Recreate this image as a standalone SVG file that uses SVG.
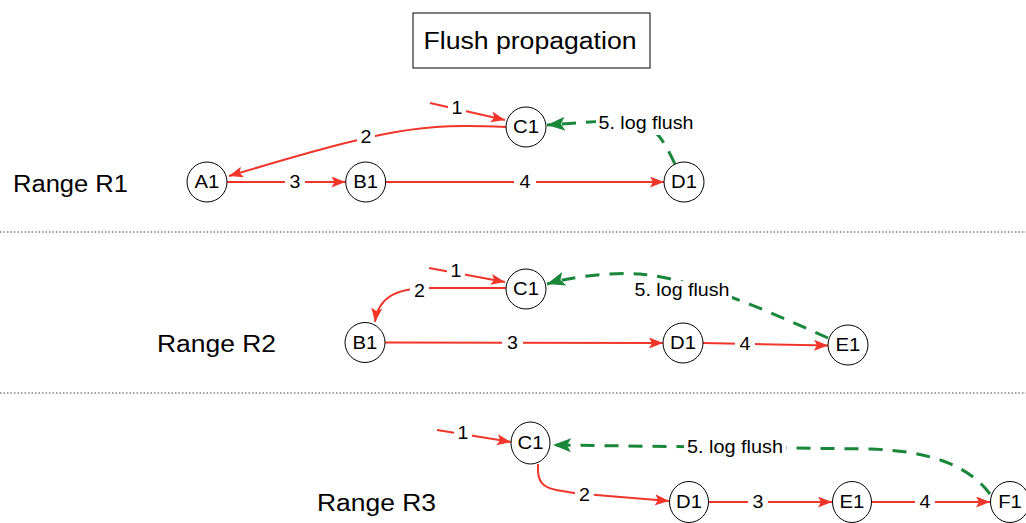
<svg xmlns="http://www.w3.org/2000/svg" width="1026" height="523" viewBox="0 0 1026 523">
  <style>
    text { font-family: "Liberation Sans", Arial, Helvetica, sans-serif; fill: #000; }
    .title { font-size: 23px; text-anchor: middle; }
    .range { font-size: 23.5px; }
    .nl { font-size: 18px; text-anchor: middle; }
    .el { font-size: 17.5px; text-anchor: middle; }
    .node ellipse { fill: #fff; stroke: #000; stroke-width: 1; }
    .red { fill: none; stroke: #f0352a; stroke-width: 2; marker-end: url(#arrowRed); }
    .green { fill: none; stroke: #18873a; stroke-width: 3; stroke-dasharray: 14 10; marker-end: url(#arrowGreen); }
    .bg { fill: #fff; }
    .sep { stroke: #444; stroke-width: 1; stroke-dasharray: 1.5 2; }
  </style>
  <defs>
    <marker id="arrowRed" markerUnits="userSpaceOnUse" markerWidth="15" markerHeight="12" refX="14" refY="5.5" orient="auto">
      <path d="M0,0 L14,5.5 L0,11 L3,5.5 Z" fill="#f0352a"/>
    </marker>
    <marker id="arrowGreen" markerUnits="userSpaceOnUse" markerWidth="19" markerHeight="15" refX="18" refY="7" orient="auto">
      <path d="M0,0 L18,7 L0,14 L4,7 Z" fill="#18873a"/>
    </marker>
  </defs>

  <rect width="1026" height="523" fill="#fff"/>

  <!-- title -->
  <g id="title">
    <rect x="413" y="13" width="237" height="55" fill="#fff" stroke="#000" stroke-width="1"/>
    <text class="title" x="530" y="48.5" textLength="213" lengthAdjust="spacingAndGlyphs">Flush propagation</text>
  </g>

  <!-- row separators -->
  <g id="separators">
    <line class="sep" x1="0" y1="232" x2="1026" y2="232"/>
    <line class="sep" x1="0" y1="393" x2="1026" y2="393"/>
  </g>

  <!-- range captions -->
  <g id="range-labels">
    <text class="range" x="13" y="191.5" textLength="115" lengthAdjust="spacingAndGlyphs">Range R1</text>
    <text class="range" x="157" y="351.5" textLength="119" lengthAdjust="spacingAndGlyphs">Range R2</text>
    <text class="range" x="317" y="511" textLength="119" lengthAdjust="spacingAndGlyphs">Range R3</text>
  </g>

  <!-- connectors -->
  <g id="connectors">
    <!-- Range R1 -->
    <path class="red" d="M430,103 L505,120"/>
    <path class="red" d="M506,127 C420,123 390,128 229,176"/>
    <path class="red" d="M227,182 L345.5,182"/>
    <path class="red" d="M385.7,182 L664,182"/>
    <path class="green" d="M675,164 C663,140 655,120 620,120 L547,125"/>

    <!-- Range R2 -->
    <path class="red" d="M429,268 L505,282"/>
    <path class="red" d="M506,288 L430,288 C395,288 378,298 375,322"/>
    <path class="red" d="M385,342.5 L663,343"/>
    <path class="red" d="M703,343 L828,345.5"/>
    <path class="green" d="M828,338 C770,312 700,280 640,274 C610,272 570,277 547,284"/>

    <!-- Range R3 -->
    <path class="red" d="M437,430 L511,442"/>
    <path class="red" d="M538,464 C537,488 545,489 578,493.5 L669,501"/>
    <path class="red" d="M708.5,502 L832,502"/>
    <path class="red" d="M871.5,502 L990,502"/>
    <path class="green" d="M990,494 C968,465 930,451 870,449 L553,445"/>

    <!-- connector labels -->
    <g id="edge-labels">
      <rect class="bg" x="448" y="98" width="18" height="20"/>
      <text class="el" x="457" y="114.3" textLength="10.9" lengthAdjust="spacingAndGlyphs">1</text>
      <rect class="bg" x="357" y="126" width="18" height="20"/>
      <text class="el" x="366" y="142.8" textLength="10.9" lengthAdjust="spacingAndGlyphs">2</text>
      <rect class="bg" x="285" y="172" width="20" height="20"/>
      <text class="el" x="295" y="188.3" textLength="10.9" lengthAdjust="spacingAndGlyphs">3</text>
      <rect class="bg" x="514" y="172" width="22" height="20"/>
      <text class="el" x="525" y="188.3" textLength="10.9" lengthAdjust="spacingAndGlyphs">4</text>
      <rect class="bg" x="596" y="113" width="101" height="22"/>
      <text class="el" x="646" y="129.3" textLength="95" lengthAdjust="spacingAndGlyphs">5. log flush</text>

      <rect class="bg" x="447" y="261" width="18" height="20"/>
      <text class="el" x="456" y="277.3" textLength="10.9" lengthAdjust="spacingAndGlyphs">1</text>
      <rect class="bg" x="410" y="280" width="19" height="20"/>
      <text class="el" x="419.5" y="296.8" textLength="10.9" lengthAdjust="spacingAndGlyphs">2</text>
      <rect class="bg" x="502" y="333" width="21" height="20"/>
      <text class="el" x="512.5" y="349.3" textLength="10.9" lengthAdjust="spacingAndGlyphs">3</text>
      <rect class="bg" x="735" y="334" width="20" height="20"/>
      <text class="el" x="745" y="350.3" textLength="10.9" lengthAdjust="spacingAndGlyphs">4</text>
      <rect class="bg" x="632" y="281" width="100" height="22"/>
      <text class="el" x="682" y="296.3" textLength="95" lengthAdjust="spacingAndGlyphs">5. log flush</text>

      <rect class="bg" x="454" y="423" width="18" height="20"/>
      <text class="el" x="463" y="439.3" textLength="10.9" lengthAdjust="spacingAndGlyphs">1</text>
      <rect class="bg" x="575" y="485" width="19" height="20"/>
      <text class="el" x="584.5" y="501.3" textLength="10.9" lengthAdjust="spacingAndGlyphs">2</text>
      <rect class="bg" x="748" y="492" width="20" height="20"/>
      <text class="el" x="758" y="508.3" textLength="10.9" lengthAdjust="spacingAndGlyphs">3</text>
      <rect class="bg" x="915" y="492" width="20" height="20"/>
      <text class="el" x="925" y="508.3" textLength="10.9" lengthAdjust="spacingAndGlyphs">4</text>
      <rect class="bg" x="684" y="436" width="102" height="22"/>
      <text class="el" x="735" y="453.3" textLength="96" lengthAdjust="spacingAndGlyphs">5. log flush</text>
    </g>
  </g>

  <!-- Range R1 nodes -->
  <g id="r1-a1" class="node"><ellipse cx="207" cy="182" rx="20" ry="20"/><text class="nl" x="207" y="188.4" textLength="24.8" lengthAdjust="spacingAndGlyphs">A1</text></g>
  <g id="r1-b1" class="node"><ellipse cx="365.7" cy="182" rx="20" ry="20"/><text class="nl" x="365.7" y="188.4" textLength="24.8" lengthAdjust="spacingAndGlyphs">B1</text></g>
  <g id="r1-c1" class="node"><ellipse cx="526" cy="127" rx="20" ry="20"/><text class="nl" x="526" y="133.4" textLength="25.9" lengthAdjust="spacingAndGlyphs">C1</text></g>
  <g id="r1-d1" class="node"><ellipse cx="684" cy="182" rx="20" ry="20"/><text class="nl" x="684" y="188.4" textLength="25.9" lengthAdjust="spacingAndGlyphs">D1</text></g>

  <!-- Range R2 nodes -->
  <g id="r2-c1" class="node"><ellipse cx="526" cy="289" rx="20" ry="20"/><text class="nl" x="526" y="295.4" textLength="25.9" lengthAdjust="spacingAndGlyphs">C1</text></g>
  <g id="r2-b1" class="node"><ellipse cx="365" cy="342.5" rx="20" ry="20"/><text class="nl" x="365" y="348.9" textLength="24.8" lengthAdjust="spacingAndGlyphs">B1</text></g>
  <g id="r2-d1" class="node"><ellipse cx="683" cy="343" rx="20" ry="20"/><text class="nl" x="683" y="349.4" textLength="25.9" lengthAdjust="spacingAndGlyphs">D1</text></g>
  <g id="r2-e1" class="node"><ellipse cx="848" cy="345" rx="20" ry="20"/><text class="nl" x="848" y="351.4" textLength="24.8" lengthAdjust="spacingAndGlyphs">E1</text></g>

  <!-- Range R3 nodes -->
  <g id="r3-c1" class="node"><ellipse cx="530.5" cy="443" rx="19.5" ry="21"/><text class="nl" x="530.5" y="449.4" textLength="25.9" lengthAdjust="spacingAndGlyphs">C1</text></g>
  <g id="r3-d1" class="node"><ellipse cx="689" cy="502" rx="19.5" ry="20.5"/><text class="nl" x="689" y="508.4" textLength="25.9" lengthAdjust="spacingAndGlyphs">D1</text></g>
  <g id="r3-e1" class="node"><ellipse cx="852" cy="502" rx="19.5" ry="20.5"/><text class="nl" x="852" y="508.4" textLength="24.8" lengthAdjust="spacingAndGlyphs">E1</text></g>
  <g id="r3-f1" class="node"><ellipse cx="1010" cy="502" rx="19.5" ry="20.5"/><text class="nl" x="1010" y="508.4" textLength="23.7" lengthAdjust="spacingAndGlyphs">F1</text></g>
</svg>
